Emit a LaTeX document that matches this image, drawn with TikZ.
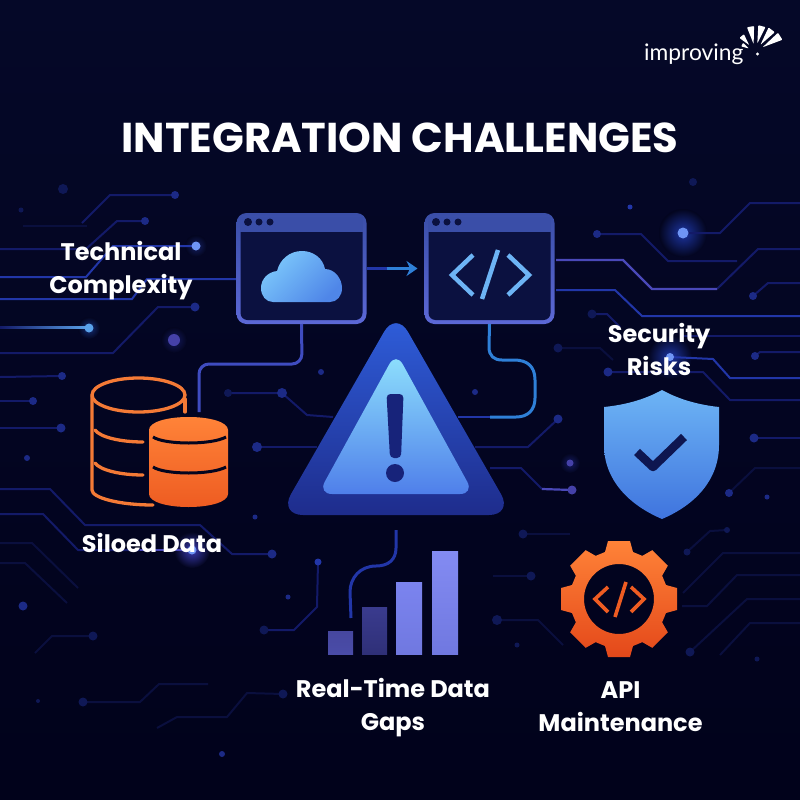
\documentclass[tikz,border=0pt]{standalone}
\usepackage{fontspec}
\setmainfont{Poppins}
\newfontfamily\logofont{Lato}
\usetikzlibrary{arrows.meta}

\definecolor{bgtop}{HTML}{050828}
\definecolor{bgbot}{HTML}{01021B}
\definecolor{bgmid}{HTML}{03051F}
\definecolor{wininner}{HTML}{0B1140}
\definecolor{winbar}{HTML}{3A4EA8}
\definecolor{winedge}{HTML}{5C68D6}
\definecolor{navyink}{HTML}{0E1650}
\definecolor{lineA}{HTML}{0A0F3E}
\definecolor{lineB}{HTML}{131A68}
\definecolor{lineC}{HTML}{2236A8}
\definecolor{lineD}{HTML}{4A48B8}
\definecolor{dotA}{HTML}{0F1856}
\definecolor{dotB}{HTML}{1C2A86}
\definecolor{dotC}{HTML}{6F95F5}
\definecolor{dotD}{HTML}{4541A8}
\definecolor{dotE}{HTML}{5AA2EA}
\definecolor{orangeA}{HTML}{F47A36}
\definecolor{orangeB}{HTML}{FF8338}
\definecolor{orangeC}{HTML}{EE5C22}
\definecolor{orangeD}{HTML}{E4481A}
\definecolor{codeblue}{HTML}{6DB4F5}
\definecolor{cloudhi}{HTML}{7CC8FB}
\definecolor{cloudlo}{HTML}{4F86E8}
\definecolor{signtop}{HTML}{2F5FDC}
\definecolor{signbot}{HTML}{1E2C8C}
\definecolor{facetop}{HTML}{8FE2FD}
\definecolor{facebot}{HTML}{4F7FEA}
\definecolor{shieldlo}{HTML}{3F74DE}
\definecolor{markink}{HTML}{17237A}
\definecolor{wirecode}{HTML}{2F80D8}
\definecolor{wirecloud}{HTML}{3F4CC0}

\tikzset{
  tracefaint/.style={lineA, line width=2pt},
  tracedim/.style={lineB, line width=2pt},
  tracemid/.style={lineC, line width=2pt},
  tracelav/.style={lineD, line width=2.2pt},
  winbox/.style={minimum width=130pt, minimum height=111pt, inner sep=0pt, outer sep=0pt,
    top color=winbar, bottom color=winedge, rounded corners=10pt},
  caption/.style={text=white, font=\bfseries\fontsize{24}{33}\selectfont, align=center, inner sep=0pt},
  dbline/.style={orangeA, line width=3.3pt, line cap=round},
  codemark/.style={codeblue, line width=4.5pt},
  gearmark/.style={orangeC, line width=3.6pt}
}

\begin{document}
\begin{tikzpicture}[x=1pt, y=-1pt]
\useasboundingbox (0,0) rectangle (800,800);
\shade[top color=bgtop, bottom color=bgbot] (0,0) rectangle (800,800);

% glows
\foreach \gx/\gy/\gr/\gc in {683/233/24/1C34A0, 192/550/18/3A3AB0, 670/357/22/1C34A0, 174/340/13/141A60, 570/463/10/141A60, 89/328/11/152F78, 196/246/11/141F60}{
  \definecolor{glowc}{HTML}{\gc}
  \shade[inner color=glowc, outer color=bgmid] (\gx,\gy) circle (\gr);
}

% left traces
\draw[tracefaint] (23,226) -- (87,226);
\draw[tracedim] (175,195) -- (110,195) -- (82,223);
\draw[tracedim] (145,221) -- (117,221) -- (86,249) -- (0,249);
\draw[tracemid] (196,246) -- (113,246) -- (86,277) -- (0,277);
\draw[tracemid] (236,279) -- (147,279) -- (132,299) -- (0,299);
\draw[tracedim] (195,307) -- (158,307) -- (113,353) -- (0,353);
\shade[left color=lineB, right color=dotE] (0,326) rectangle (89,328.5);
\draw[tracedim] (62,376) -- (0,377);
\draw[tracedim] (33,401) -- (0,401);
\draw[tracedim] (61,428) -- (0,428);
\draw[tracedim] (0,489) -- (50,489) -- (85,525) -- (200,525) -- (232,554) -- (272,554);
\draw[tracedim] (0,514) -- (43,514) -- (78,550) -- (140,550);
\draw[tracelav] (140,550) -- (192,550);
\draw[tracefaint] (0,543) -- (32,543) -- (78,588);
\draw[tracefaint] (0,563) -- (25,563) -- (67,603);
\draw[tracefaint] (93,636) -- (52,636) -- (35,653);
\draw[tracefaint] (83,702) -- (140,702) -- (159,684) -- (208,684);
\draw[tracefaint] (283,694) -- (247,693) -- (227,717) -- (177,717) -- (157,728);
\draw[tracedim] (264,630) -- (294,630) -- (317,607) -- (318,562);

% middle traces
\draw[tracedim] (228,393) -- (282,393) -- (307,415) -- (333,417);
\draw[tracedim] (257,447) -- (317,447);
\draw[tracedim] (558,419) -- (528,447) -- (475,447);
\draw[tracedim] (490,468) -- (521,468) -- (542,489);
\draw[tracelav] (542,489) -- (572,490);
\draw[tracefaint] (523,534) -- (570,534);
\draw[tracefaint] (531,576) -- (493,576);
\draw[tracefaint] (497,620) -- (538,620) -- (563,645);

% right traces
\draw[tracedim] (683,233) -- (720,233) -- (750,203) -- (800,203);
\draw[tracedim] (597,234) -- (641,234) -- (668,261) -- (737,261);
\draw[tracedim] (717,289) -- (758,249) -- (800,249);
\draw[tracelav] (556,260) -- (623,260) -- (652,289) -- (717,289);
\draw[tracemid] (556,290) -- (615,290) -- (642,316) -- (800,316);
\draw[tracedim] (753,296) -- (768,283) -- (800,283);
\draw[tracedim] (592,314) -- (607,314) -- (620,327);
\draw[tracefaint] (558,348) -- (600,348) -- (613,360);
\draw[tracedim] (680,336) -- (800,336);
\draw[tracemid] (670,357) -- (713,359) -- (730,378) -- (800,378);
\draw[tracedim] (608,372) -- (703,372) -- (730,400) -- (800,400);
\draw[tracedim] (755,356) -- (760,352) -- (800,352);
\draw[tracedim] (754,438) -- (800,438);
\draw[tracefaint] (729,493) -- (755,468) -- (800,468);
\draw[tracefaint] (687,552) -- (710,531) -- (727,530);
\draw[tracefaint] (683,593) -- (723,553) -- (800,553);
\draw[tracefaint] (682,606) -- (707,606) -- (737,575) -- (800,575);
\draw[tracefaint] (690,652) -- (747,599) -- (800,599);
\draw[tracefaint] (720,655) -- (750,623) -- (800,623);

% trace ends and loose dots
\foreach \px/\py/\pr/\pc in {
  175/195/4/dotB, 145/221/4/dotB, 196/246/4.5/dotC, 195/307/4.5/dotB, 89/328/4.5/dotE,
  62/376/4/dotB, 33/401/4/dotB, 61/428/4.5/dotB, 272/554/4.5/dotB, 192/550/4.5/dotC,
  63/189/5/dotA, 21/210/2.5/dotA, 174/340/6/dotD, 321/372/3/dotB, 27/458/3/dotB,
  23/606/4.5/dotB, 93/636/4.5/dotA, 83/702/4.5/dotA, 38/701/2/dotA, 283/694/4.5/dotA,
  222/754/3/dotB, 264/630/4.5/dotA, 288/597/2.5/dotB, 318/562/3.5/lineC,
  228/393/4/dotA, 282/393/5/dotB, 257/447/5/dotB, 255/517/2.5/dotB,
  475/392/3/dotB, 558/419/4.5/dotB, 572/490/4.5/dotD, 570/463/3.5/dotD, 523/534/4.5/dotA,
  531/576/4.5/dotA, 497/620/5/dotA, 517/645/2.5/dotA,
  683/233/5.5/dotC, 597/234/4/dotB, 630/207/2.5/lineC, 693/182/4/dotA, 753/296/4/dotB,
  592/314/4.5/dotA, 558/348/4.5/dotA, 670/357/4/dotC, 608/372/4.5/dotB, 755/356/4/dotB,
  754/438/4.5/dotB, 729/493/4/dotB, 767/497/2.5/dotB, 687/552/3.5/dotA, 727/530/3/dotA,
  690/652/4.5/dotA, 757/659/2.5/dotA}{
  \fill[\pc] (\px,\py) circle (\pr);
}

% windows
\foreach \wname/\wx in {cloudwin/301.5, codewin/489.5}{
  \node[winbox] (\wname) at (\wx,268.5) {};
  \fill[wininner, rounded corners=7pt] (\wx-61,225) rectangle (\wx+61,320);
  \fill[winbar] (\wx-61.5,217) rectangle (\wx+61.5,232);
  \fill[wininner] (\wx-53.5,222) circle (4) (\wx-42.5,222) circle (3.5) (\wx-31.5,222) circle (3.5);
}

% cloud
\shade[top color=cloudhi, bottom color=cloudlo, shading angle=45] (273,302) -- (330,302)
  .. controls (337,302) and (342,296) .. (342,288)
  .. controls (342,279) and (335,269) .. (325,269)
  .. controls (323,258) and (313,251) .. (302,251)
  .. controls (290,251) and (280,259) .. (277,271)
  .. controls (268,272) and (261,279) .. (261,288)
  .. controls (261,296) and (266,302) .. (273,302) -- cycle;

% code mark
\draw[codemark] (473,255) -- (452,275) -- (473,295);
\draw[codemark] (508,255) -- (529,275) -- (508,295);
\draw[codemark] (498,250) -- (482,299);

% connectors
\draw[lineC, line width=3pt] (cloudwin.east) -- ++(22,0);
\draw[wirecode, line width=3pt, -{Stealth[length=11pt,width=15pt]}, shorten >=7pt] (cloudwin.east)+(20,0) -- (codewin.west);
\draw[wirecloud, line width=3pt, rounded corners=10pt] (cloudwin.south) -- (302,364) -- (199,364) -- (199,412);
\draw[wirecode, line width=3pt] (codewin.south) -- (489,347)
  .. controls (489,356) and (494,360) .. (502,360) -- (514,360)
  .. controls (527,360) and (535,366) .. (535,380) -- (535,398)
  .. controls (535,410) and (528,417) .. (516,417) -- (490,417);
\draw[lineC, line width=2.2pt] (490,417) -- (458,417);

% alert sign
\shade[top color=signtop, bottom color=signbot, rounded corners=24pt] (396,311) -- (513,515) -- (279,515) -- cycle;
\shade[top color=facetop, bottom color=facebot, rounded corners=14pt] (396,352) -- (474,494) -- (318,494) -- cycle;
\fill[markink, rounded corners=4pt] (386.5,394) -- (403.5,394) -- (401,458) -- (390,458) -- cycle;
\fill[markink] (395,473) circle (9);

% database
\draw[dbline] (138.5,395) ellipse (46.5 and 17);
\draw[dbline] (92,396) -- (92,490) .. controls (92,498) and (120,505) .. (153,505);
\draw[dbline] (185,399) -- (185,412);
\draw[dbline] (95,430) .. controls (100,437) and (120,442) .. (143,442);
\draw[dbline] (95,463) .. controls (100,470) and (120,475) .. (143,475);
\shade[top color=orangeB, bottom color=orangeC] (149,430) .. controls (149,422) and (167,417) .. (188.5,417)
  .. controls (210,417) and (228,422) .. (228,430) -- (228,494)
  .. controls (228,502) and (210,507) .. (188.5,507)
  .. controls (167,507) and (149,502) .. (149,494) -- cycle;
\draw[bgmid, line width=3pt] (153,437) .. controls (165,445) and (212,445) .. (226,437);
\draw[bgmid, line width=3pt] (153,467) .. controls (165,475) and (212,475) .. (226,467);

% shield
\shade[top color=codeblue, bottom color=shieldlo] (662,390) .. controls (680,400) and (700,405) .. (719,407)
  -- (719,445) .. controls (719,480) and (695,505) .. (662,519)
  .. controls (629,505) and (604,480) .. (604,445) -- (604,407)
  .. controls (624,405) and (644,400) .. (662,390) -- cycle;
\draw[navyink, line width=8.5pt, line join=round] (637,452) -- (653,467) -- (684,437);

% bars
\foreach \bx/\bw/\btop/\bca/\bcb in {328/25/631/46479F/4A4CA8, 362/25/607/3A3B8E/2F3078, 396/26/582/7B84EF/7078E0, 432/26/551/838BF2/7078E0}{
  \definecolor{barhi}{HTML}{\bca}
  \definecolor{barlo}{HTML}{\bcb}
  \shade[top color=barhi, bottom color=barlo] (\bx,\btop) rectangle (\bx+\bw,654);
}
\draw[lineC, line width=3pt] (396,530) -- (396,548) .. controls (396,560) and (388,566) .. (376,566)
  .. controls (360,566) and (350,578) .. (350,592) -- (351,618);

% gear
\begin{scope}[shift={(619,599)}]
\shade[top color=orangeB, bottom color=orangeD, even odd rule] ([rotate=0]47,14)
  \foreach \a in {0,45,...,315}{
    -- ([rotate=\a]47,14) -- ([rotate=\a]58,11) -- ([rotate=\a]58,-11) -- ([rotate=\a]47,-14)
  } -- cycle (0,0) circle (35);
\end{scope}
\draw[gearmark] (608,587) -- (595,599) -- (608,612);
\draw[gearmark] (631,587) -- (644,599) -- (631,612);
\draw[gearmark] (626,582) -- (615,617);

% logo
\node[text=white, font=\logofont\fontsize{22.8}{24}\selectfont, inner sep=0pt, anchor=base west] (logotxt) at (644,60) {improving};
\foreach \a/\ra/\rb in {150/7/15, 130/9/21, 100/8/26, 75/9/27, 53/9/28, 32/9/30}{
  \fill[white, rounded corners=0.8pt] ([shift={(755,52)}]-\a:\ra) -- ([shift={(755,52)}]-\a-8:\rb) -- ([shift={(755,52)}]-\a+8:\rb) -- cycle;
}
\fill[white] (757.5,54) circle (1.6);

% texts
\node[text=white, font=\bfseries\fontsize{41.7}{46}\selectfont, inner sep=0pt] (titletxt) at (400,138) {INTEGRATION CHALLENGES};
\node[caption] (techlabel) at (121,271) {Technical\\Complexity};
\node[caption] (seclabel) at (659,349) {Security\\Risks};
\node[caption] (silolabel) at (152,543) {Siloed Data};
\node[caption] (gaplabel) at (393,708) {Real-Time Data\\Gaps};
\node[caption] (apilabel) at (620.5,707) {API\\Maintenance};
\end{tikzpicture}
\end{document}
